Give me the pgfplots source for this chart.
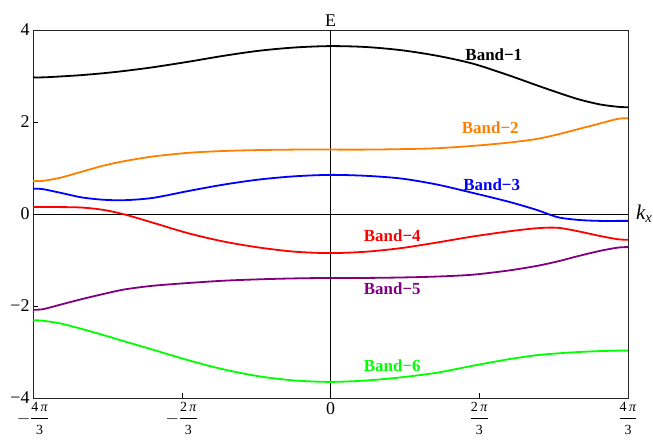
\documentclass[border=0pt]{standalone}
\usepackage{fontspec}
\setmainfont{Liberation Serif}
\usepackage{amsmath}
\usepackage{pgfplots}
\pgfplotsset{compat=1.18}

\definecolor{morange}{rgb}{1,0.5,0}
\definecolor{mpurple}{rgb}{0.5,0,0.5}

\newcommand{\fr}[1]{\dfrac{\hbox{\fontsize{14}{14}\selectfont #1\,\textit{π}}}{\hbox{\fontsize{14}{14}\selectfont 3}}}

\begin{document}
\begin{tikzpicture}
\begin{axis}[
  width=595bp, height=368bp, scale only axis,
  xmin=-4.18879, xmax=4.18879, ymin=-4, ymax=4,
  xtick={-4.18879,-2.0944,0,2.0944,4.18879},
  xticklabels={{$-\fr{4}$},{$-\fr{2}$},0,{$\fr{2}$},{$\fr{4}$}},
  ytick={-4,-2,0,2,4},
  yticklabels={−4,−2,0,2,4},
  tick pos=left, tick align=inside, major tick length=5bp,
  tick style={black, line width=0.5bp},
  ticklabel style={font=\fontsize{18}{20}\selectfont},
  xticklabel style={yshift=-3bp, inner sep=1bp},
  axis line style={line width=0.6bp, black!85},
  every axis plot/.append style={line width=1.8bp, smooth},
  clip=false,
]
\draw[line width=0.6bp] (axis cs:0,-4) -- (axis cs:0,4);
\draw[line width=0.6bp] (axis cs:-4.18879,0) -- (axis cs:4.18879,0);

% Band-1
\addplot[black] coordinates {
(-4.18879,2.97) (-4.05,2.97) (-3.8,2.99) (-3.5,3.02) (-3.2,3.06) (-2.9,3.11)
(-2.5,3.19) (-2.0,3.31) (-1.5,3.44) (-1.0,3.55) (-0.5,3.62) (0,3.65)
(0.5,3.63) (1.0,3.56) (1.5,3.44) (2.0,3.27) (2.5,3.02) (2.9,2.8)
(3.2,2.64) (3.5,2.49) (3.8,2.38) (4.05,2.33) (4.18879,2.32)};
% Band-2
\addplot[morange] coordinates {
(-4.18879,0.72) (-4.05,0.72) (-3.8,0.79) (-3.5,0.92) (-3.2,1.05) (-2.9,1.15)
(-2.5,1.25) (-2.0,1.33) (-1.5,1.37) (-1.0,1.39) (-0.5,1.4) (0,1.4)
(0.5,1.4) (1.0,1.41) (1.5,1.43) (2.0,1.48) (2.5,1.55) (2.9,1.63)
(3.2,1.73) (3.5,1.85) (3.8,1.97) (4.05,2.07) (4.18879,2.08)};
% Band-3
\addplot[blue] coordinates {
(-4.18879,0.55) (-4.05,0.54) (-3.8,0.46) (-3.5,0.36) (-3.2,0.31) (-2.9,0.30)
(-2.5,0.35) (-2.0,0.50) (-1.5,0.64) (-1.0,0.75) (-0.5,0.82) (0,0.85)
(0.5,0.83) (1.0,0.77) (1.5,0.64) (2.0,0.46) (2.5,0.27) (2.9,0.09)
(3.2,-0.07) (3.5,-0.13) (3.8,-0.15) (4.05,-0.15) (4.18879,-0.15)};
% Band-4
\addplot[red] coordinates {
(-4.18879,0.15) (-4.05,0.15) (-3.8,0.15) (-3.5,0.14) (-3.2,0.09) (-2.9,-0.01)
(-2.5,-0.19) (-2.0,-0.42) (-1.5,-0.6) (-1.0,-0.73) (-0.5,-0.82) (0,-0.85)
(0.5,-0.82) (1.0,-0.74) (1.5,-0.62) (2.0,-0.49) (2.5,-0.38) (2.9,-0.31)
(3.2,-0.3) (3.5,-0.38) (3.8,-0.48) (4.05,-0.55) (4.18879,-0.56)};
% Band-5
\addplot[mpurple] coordinates {
(-4.18879,-2.08) (-4.05,-2.07) (-3.8,-1.97) (-3.5,-1.85) (-3.2,-1.74) (-2.9,-1.64)
(-2.5,-1.56) (-2.0,-1.5) (-1.5,-1.45) (-1.0,-1.42) (-0.5,-1.4) (0,-1.39)
(0.5,-1.39) (1.0,-1.38) (1.5,-1.36) (2.0,-1.32) (2.5,-1.23) (2.9,-1.13)
(3.2,-1.03) (3.5,-0.91) (3.8,-0.8) (4.05,-0.73) (4.18879,-0.72)};
% Band-6
\addplot[green] coordinates {
(-4.18879,-2.31) (-4.05,-2.32) (-3.8,-2.38) (-3.5,-2.5) (-3.2,-2.63) (-2.9,-2.77)
(-2.5,-2.95) (-2.0,-3.18) (-1.5,-3.38) (-1.0,-3.53) (-0.5,-3.62) (0,-3.65)
(0.5,-3.62) (1.0,-3.55) (1.5,-3.45) (2.0,-3.3) (2.5,-3.16) (2.9,-3.07)
(3.2,-3.03) (3.5,-3.0) (3.8,-2.98) (4.05,-2.97) (4.18879,-2.97)};

\begin{scope}[font=\fontsize{17}{18}\selectfont\bfseries]
\node[black]   at (axis cs:2.30,3.46)  {Band−1};
\node[morange] at (axis cs:2.25,1.87)  {Band−2};
\node[blue]    at (axis cs:2.27,0.64)  {Band−3};
\node[red]     at (axis cs:0.87,-0.48) {Band−4};
\node[mpurple] at (axis cs:0.87,-1.63) {Band−5};
\node[green]   at (axis cs:0.87,-3.30) {Band−6};
\end{scope}

\node[above, inner sep=3bp, font=\fontsize{18}{20}\selectfont] at (axis cs:0,4) {E};
\node[right, inner sep=8bp, font=\fontsize{21}{22}\selectfont\itshape] at (axis cs:4.18879,0) {k\textsubscript{x}};

\coordinate (sw) at (rel axis cs:0,0);
\coordinate (ne) at (rel axis cs:1,1);
\end{axis}
\pgfresetboundingbox
\path ([shift={(-33bp,-43bp)}]sw) rectangle ([shift={(25bp,30bp)}]ne);
\end{tikzpicture}
\end{document}
